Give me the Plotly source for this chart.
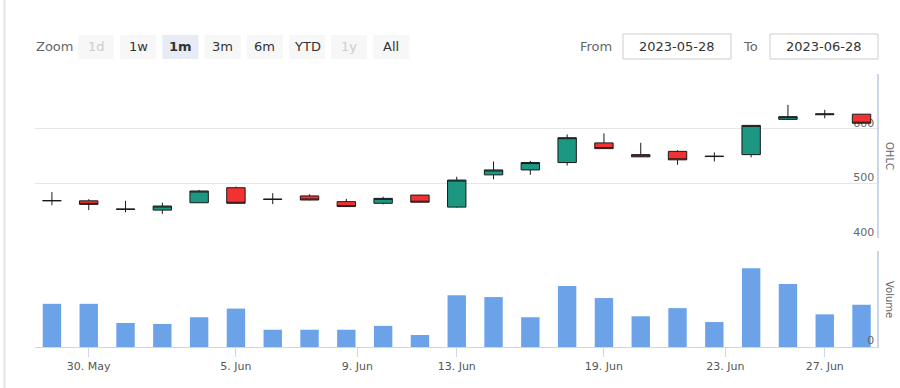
import datetime as dt
import plotly.graph_objects as go

# ---------------- data ----------------
dates = ["2023-05-29", "2023-05-30", "2023-05-31", "2023-06-01", "2023-06-02",
         "2023-06-05", "2023-06-06", "2023-06-07", "2023-06-08", "2023-06-09",
         "2023-06-12", "2023-06-13", "2023-06-14", "2023-06-15", "2023-06-16",
         "2023-06-19", "2023-06-20", "2023-06-21", "2023-06-22", "2023-06-23",
         "2023-06-26", "2023-06-27", "2023-06-28"]
opens = [468, 468, 453, 451, 464.5, 492, 470.5, 477, 466.5, 463.5, 478.5, 456.5,
         515.5, 524.5, 538, 574, 552.5, 558.5, 549, 552.5, 617, 625.5, 626.5]
highs = [484, 471, 468, 464.5, 488, 494, 482, 480, 471.5, 475.5, 479, 512,
         540, 541, 589.5, 591.5, 574, 560.5, 556.5, 606.5, 643.5, 634.5, 627]
lows = [460, 451, 447, 444, 464, 463, 462, 469, 457, 461.5, 465, 455.5,
        507.5, 515.5, 532.5, 563, 548, 534, 540, 547.5, 616, 619, 609.5]
closes = [468.5, 461.5, 452.5, 458.5, 486, 463.5, 471, 469.5, 457.5, 472.5, 465.5, 506,
          524.5, 538, 583.5, 563.5, 548.5, 543, 549.5, 606, 622, 627, 610]
volumes = [45, 45, 25, 24, 31, 40, 18, 18, 18, 22, 12.5, 54,
           52, 31, 63.5, 51, 32, 40.5, 26, 82, 65.5, 34, 44]
tick_dates = ["2023-05-30", "2023-06-05", "2023-06-09", "2023-06-13",
              "2023-06-19", "2023-06-23", "2023-06-27"]
tick_labels = ["30. May", "5. Jun", "9. Jun", "13. Jun", "19. Jun", "23. Jun", "27. Jun"]
price_ticks = [400, 500, 600, 700]
price_tick_labels = ["400", "500", "600", ""]
zoom_buttons = ["1d", "1w", "1m", "3m", "6m", "YTD", "1y", "All"]
disabled_buttons = ["1d", "1y"]
selected_button = "1m"
range_from = "2023-05-28"
range_to = "2023-06-28"

# ---------------- derived ----------------
idx = list(range(len(dates)))
hover = [dt.date.fromisoformat(d).strftime("%A, %b %d, %Y") for d in dates]
# Highstock's ordinal axis puts Friday ticks a bit before the bar
tickvals = []
for d in tick_dates:
    i = dates.index(d)
    if dt.date.fromisoformat(d).weekday() == 4:
        i -= 0.7
    tickvals.append(i)

FONT = "DejaVu Sans"
L, R, T, B = 35, 877, 74, 347
W, H = 900, 388


def px(x):
    return (x - L) / (R - L)


def py(y):
    return (B - y) / (B - T)


price_bottom = py(238)
vol_top = py(251)

fig = go.Figure()
fig.add_trace(go.Candlestick(
    x=idx, open=opens, high=highs, low=lows, close=closes,
    text=hover, name="OHLC",
    increasing=dict(fillcolor="#1b9782", line=dict(color="#1a1a1a", width=1)),
    decreasing=dict(fillcolor="#f23232", line=dict(color="#1a1a1a", width=1)),
    xaxis="x", yaxis="y", showlegend=False,
))
fig.add_trace(go.Bar(
    x=idx, y=volumes, text=hover, name="Volume", marker=dict(color="#6ca3e8", line=dict(width=0)),
    textposition="none", xaxis="x2", yaxis="y2", showlegend=False,
))

xrange = [-0.46, 22.42]
fig.update_layout(
    width=W, height=H,
    margin=dict(l=L, r=W - R, t=T, b=H - B),
    paper_bgcolor="white", plot_bgcolor="white",
    font=dict(family=FONT, size=11, color="#666666"),
    boxgap=0.5, boxgroupgap=0, bargap=0.5,
    xaxis=dict(domain=[0, 1], anchor="y", range=xrange, matches="x2",
               showticklabels=False, showgrid=False, zeroline=False, showline=False,
               rangeslider=dict(visible=False)),
    xaxis2=dict(domain=[0, 1], anchor="y2", range=xrange,
                tickmode="array", tickvals=tickvals, ticktext=tick_labels,
                ticks="outside", ticklen=9, tickcolor="#ccd6eb", tickwidth=1,
                showline=True, linecolor="#ccd6eb", linewidth=1,
                showgrid=False, zeroline=False,
                tickfont=dict(family=FONT, size=11, color="#555555")),
    yaxis=dict(domain=[price_bottom, 1], anchor="x", range=[400, 700], side="right",
               tickmode="array", tickvals=price_ticks, ticktext=price_tick_labels,
               ticklabelposition="inside", ticklabelshift=-6, ticklabelstandoff=2,
               ticklabeloverflow="allow", layer="below traces",
               showgrid=True, gridcolor="#e6e6e6", gridwidth=1, zeroline=False,
               showline=True, linecolor="#ccd6eb", linewidth=2, ticks="",
               tickfont=dict(family=FONT, size=11, color="#666666")),
    yaxis2=dict(domain=[0, vol_top], anchor="x2", range=[0, 100], side="right",
                tickmode="array", tickvals=[0, 100], ticktext=["0", ""],
                ticklabelposition="inside", ticklabelshift=-7, ticklabelstandoff=2,
                ticklabeloverflow="allow",
                showgrid=True, gridcolor="#e6e6e6", gridwidth=1, zeroline=False,
                showline=True, linecolor="#ccd6eb", linewidth=2, ticks="",
                tickfont=dict(family=FONT, size=11, color="#666666")),
)

shapes = []
annotations = []

# container left border
shapes.append(dict(type="line", xref="paper", yref="paper", x0=px(4.5), x1=px(4.5),
                   y0=py(0), y1=py(H), line=dict(color="#e4e4ec", width=2)))

# range selector
annotations.append(dict(text="Zoom", xref="paper", yref="paper", x=px(34), y=py(47),
                        xanchor="left", yanchor="middle", showarrow=False,
                        font=dict(family=FONT, size=13, color="#666666")))
btn_x0 = 78
btn_step = 42.2
for k, lab in enumerate(zoom_buttons):
    x0 = btn_x0 + k * btn_step
    x1 = x0 + 36
    sel = lab == selected_button
    dis = lab in disabled_buttons
    shapes.append(dict(type="rect", xref="paper", yref="paper",
                       x0=px(x0), x1=px(x1), y0=py(59), y1=py(35),
                       fillcolor="#e6ebf5" if sel else "#f7f7f7",
                       line=dict(width=0), layer="below"))
    annotations.append(dict(text=f"<b>{lab}</b>" if sel else lab,
                            xref="paper", yref="paper", x=px((x0 + x1) / 2), y=py(47),
                            xanchor="center", yanchor="middle", showarrow=False,
                            font=dict(family=FONT, size=13,
                                      color="#cccccc" if dis else "#333333")))

# from / to inputs
annotations.append(dict(text="From", xref="paper", yref="paper", x=px(614), y=py(47),
                        xanchor="right", yanchor="middle", showarrow=False,
                        font=dict(family=FONT, size=13, color="#666666")))
annotations.append(dict(text="To", xref="paper", yref="paper", x=px(760), y=py(47),
                        xanchor="right", yanchor="middle", showarrow=False,
                        font=dict(family=FONT, size=13, color="#666666")))
for (x0, x1), txt in [((623, 731), range_from), ((770, 878), range_to)]:
    shapes.append(dict(type="rect", xref="paper", yref="paper",
                       x0=px(x0), x1=px(x1), y0=py(59), y1=py(34),
                       fillcolor="white", line=dict(color="#cccccc", width=1)))
    annotations.append(dict(text=txt, xref="paper", yref="paper", x=px((x0 + x1) / 2),
                            y=py(47), xanchor="center", yanchor="middle", showarrow=False,
                            font=dict(family=FONT, size=13, color="#333333")))

# axis titles (rotated, on the right)
annotations.append(dict(text="OHLC", xref="paper", yref="paper", x=px(890), y=py(156),
                        xanchor="center", yanchor="middle", showarrow=False, textangle=90,
                        font=dict(family=FONT, size=10, color="#666666")))
annotations.append(dict(text="Volume", xref="paper", yref="paper", x=px(890), y=py(299),
                        xanchor="center", yanchor="middle", showarrow=False, textangle=90,
                        font=dict(family=FONT, size=10, color="#666666")))

fig.update_layout(shapes=shapes, annotations=annotations)
fig.write_html("out.html", config={"displayModeBar": False},
               post_script="document.body.style.margin='0px';")
